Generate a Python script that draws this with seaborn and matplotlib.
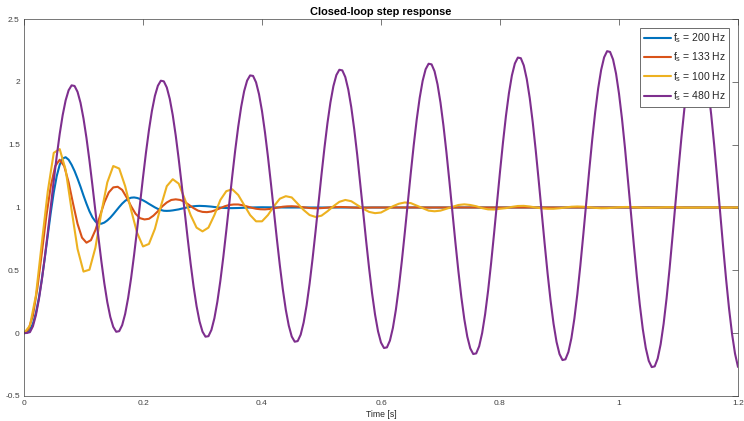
import numpy as np
import pandas as pd
import matplotlib
matplotlib.use("Agg")
import matplotlib.pyplot as plt
import seaborn as sns

# ---------------- data ----------------
title = "Closed-loop step response"
xlabel = "Time [s]"
x_ticks = [0, 0.2, 0.4, 0.6, 0.8, 1.0, 1.2]
x_ticklabels = ["0", "0.2", "0.4", "0.6", "0.8", "1", "1.2"]
y_ticks = [-0.5, 0, 0.5, 1, 1.5, 2, 2.5]
y_ticklabels = ["-0.5", "0", "0.5", "1", "1.5", "2", "2.5"]

labels = [r"f$_\mathregular{s}$ = 200 Hz", r"f$_\mathregular{s}$ = 133 Hz",
          r"f$_\mathregular{s}$ = 100 Hz", r"f$_\mathregular{s}$ = 480 Hz"]

# fs = 200 Hz : samples every 5 ms up to 0.35 s, then a settled tail
blue_dt = 0.005
blue_y = [0.000, 0.004, 0.025, 0.075, 0.16, 0.28, 0.43, 0.60, 0.78, 0.96,
          1.12, 1.25, 1.34, 1.39, 1.40, 1.38, 1.34, 1.29, 1.23, 1.165,
          1.095, 1.03, 0.97, 0.922, 0.889, 0.873, 0.871, 0.880, 0.897, 0.919,
          0.946, 0.975, 1.004, 1.031, 1.053, 1.069, 1.078, 1.080, 1.076, 1.068,
          1.057, 1.044, 1.029, 1.015, 1.001, 0.989, 0.980, 0.974, 0.973, 0.974,
          0.977, 0.981, 0.985, 0.991, 0.996, 1.002, 1.006, 1.010, 1.012, 1.013,
          1.012, 1.011, 1.009, 1.007, 1.004, 1.001, 0.999, 0.997, 0.996, 0.995,
          0.995]
blue_tail_t = [0.36, 0.37, 0.38, 0.39, 0.40, 0.42, 0.44, 1.2]
blue_tail_y = [0.996, 0.998, 1.0, 1.001, 1.002, 1.001, 1.0, 1.0]

# fs = 133 Hz : samples every 7.5 ms up to 0.585 s, then settled
red_dt = 0.0075
red_y = [0.00, 0.03, 0.14, 0.36, 0.64, 0.93, 1.17, 1.33, 1.38, 1.33,
         1.20, 1.03, 0.87, 0.76, 0.72, 0.74, 0.82, 0.93, 1.04, 1.12,
         1.16, 1.165, 1.14, 1.08, 1.01, 0.95, 0.915, 0.905, 0.91, 0.935,
         0.97, 1.01, 1.04, 1.06, 1.065, 1.06, 1.045, 1.02, 0.995, 0.975,
         0.965, 0.963, 0.968, 0.98, 0.995, 1.01, 1.02, 1.024, 1.024, 1.018,
         1.008, 0.998, 0.99, 0.986, 0.985, 0.988, 0.994, 1.0, 1.006, 1.009,
         1.01, 1.008, 1.004, 1.0, 0.996, 0.994, 0.994, 0.996, 0.999, 1.002,
         1.003, 1.004, 1.003, 1.001, 0.999, 0.998, 0.998, 0.999, 1.0]
red_tail_t = [1.2]
red_tail_y = [1.0]

# fs = 100 Hz : samples every 10 ms
yellow_dt = 0.01
yellow_y = [0.00, 0.06, 0.30, 0.72, 1.13, 1.435, 1.465, 1.30, 0.98, 0.67,
            0.49, 0.505, 0.68, 0.96, 1.20, 1.33, 1.31, 1.17, 0.98, 0.80,
            0.69, 0.71, 0.83, 1.01, 1.17, 1.225, 1.19, 1.07, 0.94, 0.84,
            0.81, 0.84, 0.94, 1.06, 1.13, 1.145, 1.10, 1.02, 0.94, 0.89,
            0.89, 0.94, 1.01, 1.07, 1.09, 1.08, 1.03, 0.98, 0.94, 0.925,
            0.935, 0.97, 1.01, 1.045, 1.06, 1.05, 1.02, 0.99, 0.965, 0.955,
            0.96, 0.985, 1.01, 1.03, 1.04, 1.035, 1.015, 0.995, 0.975, 0.97,
            0.975, 0.99, 1.005, 1.02, 1.025, 1.02, 1.01, 0.995, 0.985, 0.984,
            0.99, 0.995, 1.005, 1.012, 1.013, 1.008, 1.0, 0.993, 0.99, 0.99,
            0.994, 1.0, 1.006, 1.008, 1.006, 1.002, 0.997, 0.994, 0.995, 0.998,
            1.002, 1.004, 1.004, 1.001, 0.998, 0.997, 0.998, 1.0, 1.002, 1.002,
            1.001, 0.999, 0.999, 0.999, 1.0, 1.001, 1.001, 1.0, 1.0, 1.0,
            1.0]

# fs = 480 Hz : read every 5 ms
purple_dt = 0.005
purple_y = [0.000, 0.002, 0.008, 0.055, 0.143, 0.268, 0.424, 0.605, 0.802, 1.008,
            1.213, 1.408, 1.585, 1.735, 1.853, 1.933, 1.972, 1.967, 1.920, 1.833,
            1.708, 1.553, 1.373, 1.176, 0.971, 0.767, 0.573, 0.397, 0.247, 0.130,
            0.050, 0.011, 0.016, 0.064, 0.153, 0.280, 0.438, 0.622, 0.822, 1.031,
            1.239, 1.437, 1.616, 1.769, 1.888, 1.969, 2.009, 2.004, 1.955, 1.864,
            1.735, 1.573, 1.386, 1.182, 0.969, 0.757, 0.555, 0.372, 0.216, 0.094,
            0.012, -0.028, -0.024, 0.026, 0.119, 0.251, 0.416, 0.607, 0.816, 1.033,
            1.250, 1.456, 1.642, 1.801, 1.926, 2.010, 2.051, 2.047, 1.996, 1.901,
            1.767, 1.598, 1.404, 1.191, 0.969, 0.749, 0.539, 0.349, 0.186, 0.060,
            -0.027, -0.068, -0.063, -0.012, 0.085, 0.222, 0.394, 0.593, 0.810, 1.037,
            1.262, 1.476, 1.671, 1.836, 1.966, 2.054, 2.096, 2.091, 2.038, 1.939,
            1.799, 1.623, 1.420, 1.197, 0.966, 0.735, 0.516, 0.317, 0.148, 0.015,
            -0.075, -0.118, -0.113, -0.059, 0.042, 0.186, 0.365, 0.573, 0.800, 1.037,
            1.272, 1.496, 1.699, 1.872, 2.008, 2.100, 2.144, 2.139, 2.084, 1.980,
            1.834, 1.650, 1.438, 1.206, 0.965, 0.724, 0.496, 0.288, 0.112, -0.027,
            -0.121, -0.166, -0.161, -0.104, 0.001, 0.151, 0.338, 0.555, 0.792, 1.038,
            1.284, 1.517, 1.729, 1.909, 2.051, 2.146, 2.193, 2.188, 2.130, 2.022,
            1.870, 1.679, 1.457, 1.216, 0.964, 0.714, 0.475, 0.259, 0.075, -0.069,
            -0.166, -0.214, -0.208, -0.149, -0.040, 0.116, 0.311, 0.537, 0.784, 1.041,
            1.297, 1.540, 1.760, 1.948, 2.095, 2.195, 2.244, 2.238, 2.178, 2.066,
            1.906, 1.707, 1.476, 1.223, 0.961, 0.699, 0.450, 0.225, 0.032, -0.118,
            -0.220, -0.270, -0.264, -0.202, -0.088, 0.075, 0.279, 0.514, 0.772, 1.040,
            1.307, 1.561, 1.791, 1.987, 2.141, 2.245, 2.296, 2.290, 2.227, 2.110,
            1.944, 1.737, 1.496, 1.234, 0.960, 0.688, 0.429, 0.194, -0.006, -0.163,
            -0.269]

colors = ["#0072BD", "#D95319", "#EDB120", "#7E2F8E"]

# ---------------- assemble ----------------
def series(dt, vals, tail_t=(), tail_y=()):
    t = list(np.arange(len(vals)) * dt) + list(tail_t)
    y = list(vals) + list(tail_y)
    return pd.DataFrame({"t": t, "y": y})

frames = [
    series(blue_dt, blue_y, blue_tail_t, blue_tail_y),
    series(red_dt, red_y, red_tail_t, red_tail_y),
    series(yellow_dt, yellow_y),
    series(purple_dt, purple_y),
]

sns.set_theme(style="white")
plt.rcParams["font.family"] = ["Liberation Sans", "DejaVu Sans"]
plt.rcParams["mathtext.fontset"] = "custom"
plt.rcParams["mathtext.rm"] = "Liberation Sans"
plt.rcParams["mathtext.it"] = "Liberation Sans:italic"

fig = plt.figure(figsize=(7.44, 4.21), dpi=100)
ax = fig.add_axes([24 / 744, 1 - 396 / 421, 714 / 744, 377 / 421])

for df, c, lab in zip(frames, colors, labels):
    sns.lineplot(data=df, x="t", y="y", ax=ax, color=c, linewidth=1.5,
                 estimator=None, sort=False, label=lab)

ax.set_xlim(0, 1.2)
ax.set_ylim(-0.5, 2.5)
ax.set_xticks(x_ticks)
ax.set_xticklabels(x_ticklabels)
ax.set_yticks(y_ticks)
ax.set_yticklabels(y_ticklabels)
ax.set_xlabel(xlabel, fontsize=6.2, color="#262626", labelpad=2)
ax.set_ylabel("")
ax.set_title(title, fontsize=7.9, fontweight="bold", color="black", pad=3)

ax.tick_params(direction="in", top=True, right=True, length=4, width=0.5,
               colors="#404040", labelsize=6.0, pad=3)
for s in ax.spines.values():
    s.set_color("#404040")
    s.set_linewidth(0.5)
    s.set_visible(True)

leg = ax.legend(loc="upper right", bbox_to_anchor=(0.9878, 0.977),
                borderaxespad=0, fontsize=7.5, frameon=True, fancybox=False,
                framealpha=1, edgecolor="#555555", handlelength=2.6,
                handletextpad=0.15, labelspacing=0.53, borderpad=0.35)
leg.get_frame().set_linewidth(0.6)

fig.savefig("out.png", dpi=100)
